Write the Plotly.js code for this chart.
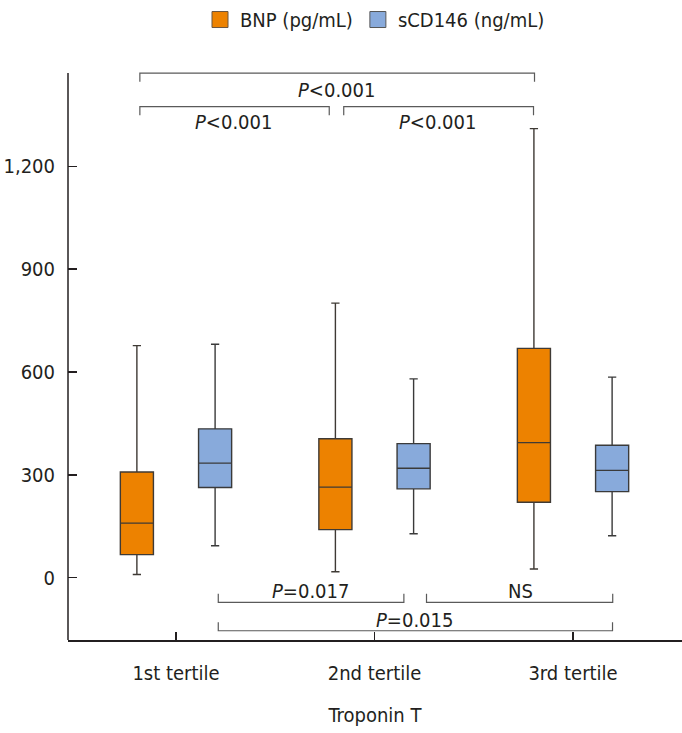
<!DOCTYPE html>
<html>
<head>
<meta charset="utf-8">
<script src="https://cdn.plot.ly/plotly-3.0.1.min.js"></script>
<style>html,body{margin:0;padding:0;background:#fff;}#chart{width:682px;height:733px;}</style>
</head>
<body>
<div id="chart"></div>
<script>
// ---- data ----
const categories = ['1st tertile', '2nd tertile', '3rd tertile'];
const seriesNames = ['BNP (pg/mL)', 'sCD146 (ng/mL)'];
const bnpLower  = [9, 17, 25];
const bnpQ1     = [67, 140, 220];
const bnpMedian = [159, 264, 394];
const bnpQ3     = [308, 405, 669];
const bnpUpper  = [677, 801, 1310];
const cdLower   = [93, 128, 122];
const cdQ1      = [263, 259, 251];
const cdMedian  = [334, 319, 313];
const cdQ3      = [434, 391, 386];
const cdUpper   = [681, 580, 585];
const yTickVals = [0, 300, 600, 900, 1200];
const xAxisTitle = 'Troponin T';
// significance brackets: [x0, x1, y, label, labelX, labelY, tickDir]
const brackets = [
  [-0.182, 1.806, 1472, '<i>P</i><0.001', 0.809, 1424, -1],
  [-0.182, 0.772, 1374, '<i>P</i><0.001', 0.290, 1328, -1],
  [0.845, 1.801, 1374, '<i>P</i><0.001', 1.317, 1328, -1],
  [0.213, 1.148, -72, '<i>P</i>=0.017', 0.678, -38, 1],
  [1.262, 2.200, -72, 'NS', 1.736, -38, 1],
  [0.213, 2.199, -155, '<i>P</i>=0.015', 1.202, -125, 1]
];

const FONT = "'DejaVu Sans Condensed', 'DejaVu Sans', sans-serif";
const TXT = '#231f20';
const orange = '#ED8200';
const blue = '#88AADB';
const xr = [-0.544, 2.549];
const yr = [-182, 1554];
const tickH = 25; // bracket end height in data units

const traces = [
  {type: 'box', name: seriesNames[0], x: categories, lowerfence: bnpLower, q1: bnpQ1, median: bnpMedian, q3: bnpQ3, upperfence: bnpUpper,
   fillcolor: orange, line: {color: '#3f3a35', width: 1.4}, whiskerwidth: 0.25, showlegend: false, hoverinfo: 'y'},
  {type: 'box', name: seriesNames[1], x: categories, lowerfence: cdLower, q1: cdQ1, median: cdMedian, q3: cdQ3, upperfence: cdUpper,
   fillcolor: blue, line: {color: '#3a3a3a', width: 1.4}, whiskerwidth: 0.25, showlegend: false, hoverinfo: 'y'},
  {type: 'scatter', mode: 'markers', name: seriesNames[0], x: [null], y: [null],
   marker: {symbol: 'square', size: 16, color: orange, line: {color: '#6b5640', width: 1}}},
  {type: 'scatter', mode: 'markers', name: seriesNames[1], x: [null], y: [null],
   marker: {symbol: 'square', size: 16, color: blue, line: {color: '#555', width: 1}}}
];

const shapes = [];
const annotations = [];
brackets.forEach(b => {
  const [x0, x1, y, label, lx, ly, dir] = b;
  shapes.push({type: 'path', xref: 'x', yref: 'y', layer: 'above',
    path: `M${x0},${y + dir * tickH} L${x0},${y} L${x1},${y} L${x1},${y + dir * tickH}`,
    line: {color: '#5a5a5a', width: 1.2}});
  annotations.push({xref: 'x', yref: 'y', x: lx, y: ly, text: label, showarrow: false,
    xanchor: 'center', yanchor: 'middle', font: {family: FONT, size: 20, color: TXT}});
});
// y axis line (stops at top bracket level)
shapes.push({type: 'line', xref: 'paper', yref: 'y', x0: 0, x1: 0, y0: yr[0], y1: 1472, layer: 'above',
  line: {color: '#231f20', width: 1.5}});

const layout = {
  width: 682, height: 733,
  margin: {l: 68, r: 0, t: 45, b: 93},
  paper_bgcolor: '#fff', plot_bgcolor: '#fff',
  font: {family: FONT, size: 20, color: TXT},
  boxmode: 'group', boxgap: 0.212, boxgroupgap: 0.577,
  showlegend: true,
  legend: {orientation: 'h', xref: 'paper', x: 0.5, xanchor: 'center', yref: 'paper', y: 1.0756, yanchor: 'top',
    font: {family: FONT, size: 20, color: TXT}, itemclick: false, bgcolor: 'rgba(0,0,0,0)'},
  xaxis: {type: 'category', range: xr, showgrid: false, zeroline: false, showline: true, linecolor: '#231f20', linewidth: 1.5,
    ticks: 'inside', ticklen: 8, tickwidth: 1.5, tickcolor: '#231f20', ticklabelstandoff: 14,
    tickfont: {family: FONT, size: 20, color: TXT},
    title: {text: xAxisTitle, standoff: 24, font: {family: FONT, size: 20, color: TXT}}},
  yaxis: {range: yr, showgrid: false, zeroline: false, showline: false,
    tickmode: 'array', tickvals: yTickVals, separatethousands: true,
    ticks: 'inside', ticklen: 9, tickwidth: 1.5, tickcolor: '#231f20', ticklabelstandoff: 12,
    tickfont: {family: FONT, size: 20, color: TXT}},
  shapes: shapes,
  annotations: annotations
};

Plotly.newPlot('chart', traces, layout, {displayModeBar: false, staticPlot: true});
</script>
</body>
</html>
